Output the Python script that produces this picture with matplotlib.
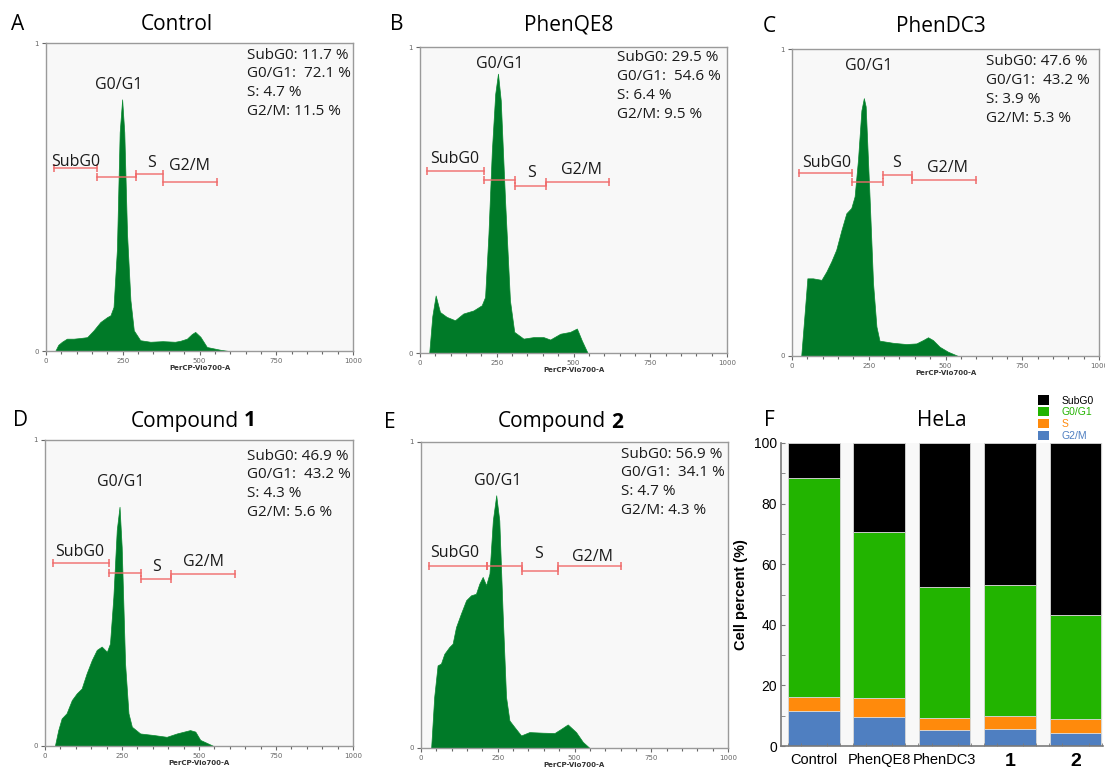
import matplotlib.pyplot as plt
from matplotlib.ticker import MultipleLocator

plt.rcParams['font.family'] = ['Open Sans', 'DejaVu Sans']

# histogram profiles (PerCP-Vio700-A, normalised count)
ctrl_x = [30, 40, 52, 68, 90, 110, 134, 155, 177, 199, 210, 220, 231, 240, 248, 255, 264, 275, 286, 307,
          340, 380, 420, 437, 459, 475, 486, 503, 524, 568, 595]
ctrl_y = [0, 0.02, 0.03, 0.04, 0.04, 0.042, 0.045, 0.067, 0.094, 0.11, 0.116, 0.143, 0.33, 0.71, 0.817,
          0.71, 0.38, 0.165, 0.067, 0.035, 0.03, 0.032, 0.03, 0.033, 0.04, 0.055, 0.062, 0.046, 0.013, 0.004, 0]

qe8_x = [30, 40, 51, 65, 87, 114, 141, 174, 201, 212, 223, 234, 245, 254, 263, 277, 293, 307, 337, 370,
         402, 424, 457, 489, 511, 527, 546]
qe8_y = [0, 0.12, 0.188, 0.134, 0.118, 0.107, 0.129, 0.139, 0.156, 0.183, 0.39, 0.66, 0.847, 0.913, 0.826,
         0.5, 0.172, 0.069, 0.047, 0.052, 0.052, 0.044, 0.063, 0.069, 0.08, 0.041, 0]

dc3_x = [30, 42, 50, 68, 96, 112, 128, 144, 161, 177, 193, 204, 215, 226, 234, 240, 253, 264, 275, 285,
         329, 372, 405, 427, 443, 459, 481, 508, 541]
dc3_y = [0, 0.15, 0.253, 0.253, 0.248, 0.275, 0.308, 0.346, 0.41, 0.465, 0.482, 0.52, 0.64, 0.80, 0.84,
         0.813, 0.509, 0.237, 0.096, 0.05, 0.043, 0.039, 0.041, 0.052, 0.061, 0.052, 0.03, 0.014, 0]

c1_x = [32, 43, 54, 70, 87, 103, 119, 135, 152, 168, 184, 201, 211, 222, 233, 242, 249, 260, 271, 282,
        309, 352, 395, 428, 471, 488, 504, 547]
c1_y = [0, 0.052, 0.09, 0.107, 0.15, 0.172, 0.188, 0.237, 0.281, 0.314, 0.325, 0.308, 0.335, 0.488, 0.706,
        0.782, 0.65, 0.27, 0.107, 0.063, 0.041, 0.036, 0.03, 0.041, 0.052, 0.047, 0.02, 0]

c2_x = [33, 43, 54, 65, 76, 92, 103, 114, 130, 147, 163, 179, 190, 201, 212, 223, 234, 245, 255, 266,
        277, 288, 304, 326, 353, 397, 435, 457, 478, 505, 527, 549]
c2_y = [0, 0.167, 0.27, 0.276, 0.308, 0.33, 0.341, 0.395, 0.439, 0.483, 0.499, 0.504, 0.537, 0.559, 0.532,
        0.57, 0.744, 0.826, 0.744, 0.439, 0.167, 0.09, 0.069, 0.041, 0.052, 0.05, 0.049, 0.063, 0.077,
        0.052, 0.02, 0]

# gate ranges (start, end, height) for SubG0, G0/G1, S, G2/M
ctrl_gates = [(25, 166, 0.594), (166, 294, 0.565), (294, 381, 0.575), (381, 557, 0.55)]
qe8_gates = [(24, 210, 0.595), (210, 311, 0.564), (311, 410, 0.546), (410, 617, 0.559)]
dc3_gates = [(23, 195, 0.596), (195, 296, 0.566), (296, 392, 0.59), (392, 598, 0.572)]
c1_gates = [(25, 209, 0.597), (209, 311, 0.566), (311, 408, 0.545), (408, 618, 0.561)]
c2_gates = [(25, 214, 0.594), (214, 329, 0.594), (329, 447, 0.578), (447, 652, 0.594)]

# label positions (x, y) for SubG0, G0/G1, S, G2/M
ctrl_lbl = [(98, 0.615), (237, 0.865), (345, 0.61), (468, 0.6)]
qe8_lbl = [(114, 0.635), (259, 0.944), (362, 0.588), (527, 0.597)]
dc3_lbl = [(112, 0.63), (251, 0.943), (342, 0.628), (508, 0.612)]
c1_lbl = [(114, 0.633), (247, 0.864), (361, 0.584), (515, 0.602)]
c2_lbl = [(111, 0.637), (250, 0.873), (384, 0.633), (558, 0.624)]

phases = ['SubG0', 'G0/G1', 'S', 'G2/M']
samples = ['Control', 'PhenQE8', 'PhenDC3', '1', '2']
subg0 = [11.7, 29.5, 47.6, 46.9, 56.9]
g0g1 = [72.1, 54.6, 43.2, 43.2, 34.1]
s_phase = [4.7, 6.4, 3.9, 4.3, 4.7]
g2m = [11.5, 9.5, 5.3, 5.6, 4.3]

W, H = 1105, 769
fig = plt.figure(figsize=(W / 100, H / 100), dpi=100)
fig.patch.set_facecolor('white')


def px_axes(l, t, r, b):
    return fig.add_axes([l / W, 1 - b / H, (r - l) / W, (b - t) / H])


def hist_panel(box, hx, hy, gates, lbls, i, stat_pos):
    ax = px_axes(*box)
    ax.set_facecolor('#f8f8f8')
    ax.fill_between(hx, hy, 0, color='#007a28', lw=0.5, edgecolor='#0a8a30')
    ax.set_xlim(0, 1000)
    ax.set_ylim(0, 1)
    for sp in ax.spines.values():
        sp.set_color('#9a9a9a')
        sp.set_linewidth(1)
    ax.set_xticks([0, 250, 500, 750, 1000])
    ax.xaxis.set_minor_locator(MultipleLocator(50))
    ax.set_yticks([0, 1])
    ax.tick_params(which='both', labelsize=5, colors='#666666', length=3, width=0.8, pad=2)
    ax.tick_params(which='minor', length=2)
    ax.set_xlabel('PerCP-Vio700-A', fontsize=5, fontweight='bold', color='#333333', labelpad=1,
                  family=['DejaVu Sans'])
    for lab in ax.get_xticklabels() + ax.get_yticklabels():
        lab.set_family(['DejaVu Sans'])
    for (x0, x1, y) in gates:
        ax.plot([x0, x1], [y, y], color='#f06a6a', lw=1.1, alpha=0.9)
        ax.plot([x0, x1], [y, y], color='#f06a6a', marker='|', ms=6, mew=1.1, ls='none')
    for name, (lx, ly) in zip(phases, lbls):
        ax.text(lx, ly, name, fontsize=11.5, ha='center', va='center', color='#1a1a1a')
    stats = '\n'.join([
        f'SubG0: {subg0[i]} %',
        f'G0/G1:  {g0g1[i]} %',
        f'S: {s_phase[i]} %',
        f'G2/M: {g2m[i]} %',
    ])
    ax.text(stat_pos[0], stat_pos[1], stats, fontsize=11, ha='left', va='top',
            linespacing=1.35, color='#1a1a1a', transform=ax.transAxes)
    return ax


hist_panel((46, 43, 353, 351), ctrl_x, ctrl_y, ctrl_gates, ctrl_lbl, 0, (0.655, 0.985))
hist_panel((420, 47, 727, 353), qe8_x, qe8_y, qe8_gates, qe8_lbl, 1, (0.643, 0.99))
hist_panel((792, 49, 1099, 356), dc3_x, dc3_y, dc3_gates, dc3_lbl, 2, (0.633, 0.983))
hist_panel((45, 440, 353, 746), c1_x, c1_y, c1_gates, c1_lbl, 3, (0.655, 0.972))
hist_panel((421, 442, 728, 748), c2_x, c2_y, c2_gates, c2_lbl, 4, (0.651, 0.985))

# panel letters and titles
def ftext(x, y, s, **kw):
    fig.text(x / W, 1 - y / H, s, va='center', **kw)

for (x, y, s) in [(18, 25, 'A'), (397, 25, 'B'), (769, 26, 'C'), (20, 421, 'D'), (390, 422, 'E'),
                  (769, 421, 'F')]:
    ftext(x, y, s, fontsize=15, ha='center')
ftext(177, 25, 'Control', fontsize=15, ha='center')
ftext(569, 25, 'PhenQE8', fontsize=15, ha='center')
ftext(941, 26, 'PhenDC3', fontsize=15, ha='center')
ftext(239, 421, 'Compound', fontsize=15, ha='right')
ftext(244, 421, '1', fontsize=15, ha='left', fontweight='bold')
ftext(606, 422, 'Compound', fontsize=15, ha='right')
ftext(611, 422, '2', fontsize=15, ha='left', fontweight='bold')
ftext(942, 421, 'HeLa', fontsize=15, ha='center')

# panel F: stacked bars
axf = px_axes(781, 443, 1103, 746)
axf.set_facecolor('#f8f8f8')
xs = list(range(len(samples)))
colors = {'SubG0': '#000000', 'G0/G1': '#22b400', 'S': '#ff8a0c', 'G2/M': '#4f7fc1'}
bottom = [0] * len(samples)
handles = []
for name, vals in [('G2/M', g2m), ('S', s_phase), ('G0/G1', g0g1), ('SubG0', subg0)]:
    b = axf.bar(xs, vals, 0.79, bottom=bottom, color=colors[name], edgecolor='#d8d8d8', lw=0.6,
                label=name)
    handles.append(b)
    bottom = [bb + v for bb, v in zip(bottom, vals)]
axf.set_xlim(-0.5, 4.42)
axf.set_ylim(0, 100)
axf.spines['top'].set_visible(False)
axf.spines['right'].set_visible(False)
for sp in ['left', 'bottom']:
    axf.spines[sp].set_color('#7a7a7a')
    axf.spines[sp].set_linewidth(1.2)
axf.set_yticks([0, 20, 40, 60, 80, 100])
axf.yaxis.set_minor_locator(MultipleLocator(10))
axf.set_xticks(xs)
axf.set_xticklabels(samples)
axf.xaxis.set_minor_locator(MultipleLocator(0.2))
axf.tick_params(axis='y', which='both', direction='in', length=3, labelsize=10, color='#7a7a7a', pad=3)
axf.tick_params(axis='x', which='major', length=0, labelsize=10.5, pad=5)
axf.tick_params(axis='x', which='minor', direction='in', length=2, color='#7a7a7a')
for lab in axf.get_yticklabels() + axf.get_xticklabels():
    lab.set_family(['Liberation Sans'])
for lab in axf.get_xticklabels()[3:]:
    lab.set_fontweight('bold')
    lab.set_fontsize(14)
axf.set_ylabel('Cell percent (%)', fontsize=10.5, fontweight='bold', family=['Liberation Sans'],
               labelpad=4)

hs = handles[::-1]
leg = fig.legend(hs, phases, loc='upper right', bbox_to_anchor=(1103 / W, 1 - 386 / H), frameon=False,
                 fontsize=7.5, handlelength=1.0, handleheight=1.0, handletextpad=1.2, labelspacing=0.15,
                 prop={'family': ['Liberation Sans'], 'size': 7.5})
for t, name in zip(leg.get_texts(), phases):
    t.set_color(colors[name])
for p in leg.legend_handles:
    p.set_edgecolor('none')

fig.savefig('out.png', dpi=100, facecolor='white')
